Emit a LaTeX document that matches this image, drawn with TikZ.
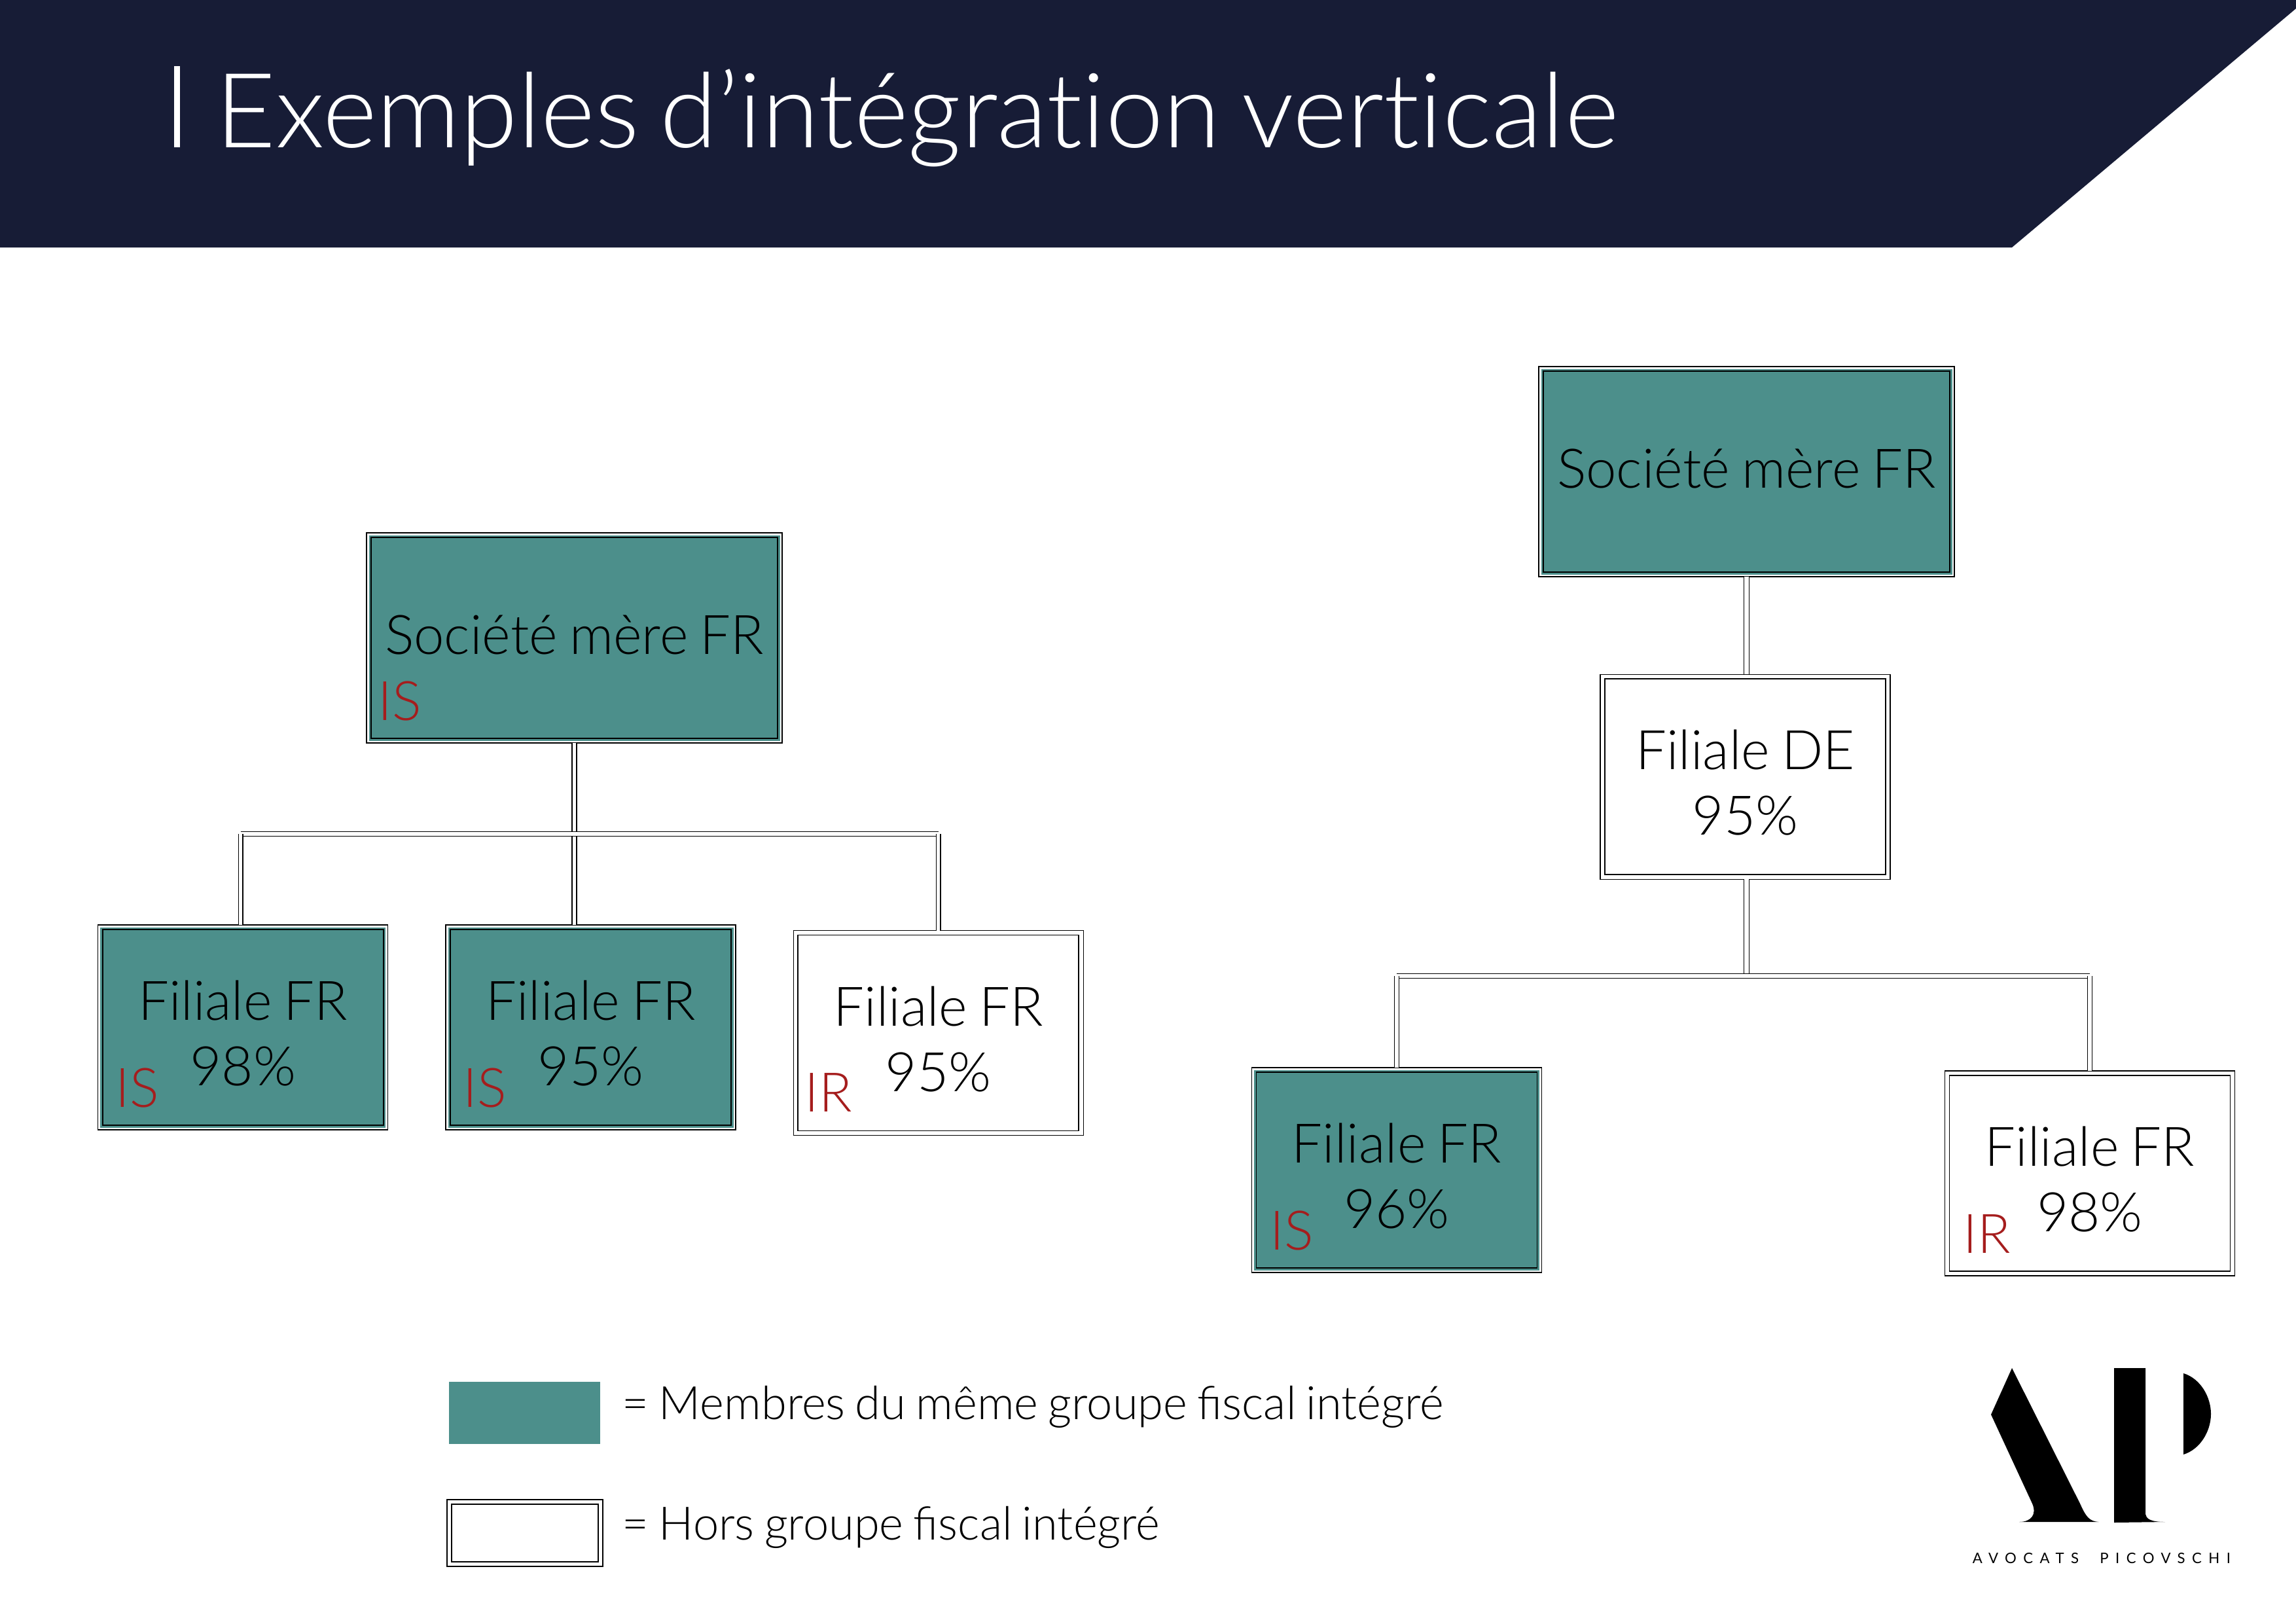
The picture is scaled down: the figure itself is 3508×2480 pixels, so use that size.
\documentclass[tikz,border=0pt]{standalone}
\usepackage{fontspec}
\setmainfont[WordSpace=0.8]{Lato Light}
\newfontfamily\titlefont[WordSpace=0.75, Ligatures=NoCommon]{Lato Light}
\newfontfamily\logofont[LetterSpace=47, WordSpace=2]{Lato}
\usepackage{tikz}
\usetikzlibrary{calc}

\definecolor{bandnavy}{HTML}{171C36}
\definecolor{boxteal}{HTML}{4C8F8B}
\definecolor{taxred}{HTML}{A51D1D}

\newcommand{\topstrut}{\rule{0pt}{19pt}}

\tikzset{
	box/.style={draw, line width=.3pt, inner sep=0pt, outer sep=0pt, align=center, font=\fontsize{20}{24}\selectfont},
	boxsize/.style 2 args={minimum width=#1*0.24pt, minimum height=#2*0.24pt},
	innerline/.style={draw, line width=.42pt},
	whitebox/.style={box, path picture={
		\draw [innerline] ([shift={(1.68pt,1.68pt)}]path picture bounding box.south west) rectangle ([shift={(-1.68pt,-1.68pt)}]path picture bounding box.north east);
	}},
	tealbox/.style={box, path picture={
		\fill [boxteal] ([shift={(.84pt,.84pt)}]path picture bounding box.south west) rectangle ([shift={(-.84pt,-.84pt)}]path picture bounding box.north east);
		\draw [innerline] ([shift={(1.68pt,1.68pt)}]path picture bounding box.south west) rectangle ([shift={(-1.68pt,-1.68pt)}]path picture bounding box.north east);
	}},
	mere/.style={boxsize={635}{321}, text height=14.5pt, text depth=2.7pt},
	filiale/.style={boxsize={443}{313}},
	link/.style={draw, line width=.36pt, double, double distance=#1},
	link/.default=1.25pt,
	taxlabel/.style={text=taxred, anchor=base west, inner sep=0pt, font=\fontsize{20}{24}\selectfont},
	legendtext/.style={anchor=base west, inner sep=0pt, font=\fontsize{16.9}{20}\selectfont},
}

\begin{document}
\begin{tikzpicture}[x=0.24pt, y=-0.24pt]
	%\draw [help lines, step=100, gray] (0,0) grid (3508, 2480);
	\useasboundingbox (0,0) rectangle (3508,2480);

	\fill [bandnavy] (0,0) -- (3508,0) -- (3508,13) -- (3074,378) -- (0,378) -- cycle;
	\fill [white] (266,101) rectangle (275,225);
	\node (T) [text=white, anchor=base west, inner sep=0pt, font=\titlefont\fontsize{38.1}{45}\selectfont] at (329,225) {Exemples d’intégration verticale};

	\node (M1) [tealbox, mere] at (877.5,974.5) {Société mère FR};
	\node (F1) [tealbox, filiale] at (371.3,1569.5) {\topstrut Filiale FR\\98\%};
	\node (F2) [tealbox, filiale] at (902.5,1569.5) {\topstrut Filiale FR\\95\%};
	\node (F3) [whitebox, filiale] at (1433.7,1578) {\topstrut Filiale FR\\95\%};

	\node (I0) [taxlabel] at (577,1100) {IS};
	\node (I1) [taxlabel] at (176,1691) {IS};
	\node (I2) [taxlabel] at (707,1691) {IS};
	\node (I3) [taxlabel] at (1229,1698) {IR};

	\coordinate (B1L) at (367.6,1274);
	\coordinate (B1R) at (1433.7,1274);
	\draw [link] (M1.south) -- (M1.south |- F2.north);
	\draw [link=1.4pt] (B1L) -- (B1R);
	\draw [link] (B1L) -- (B1L |- F1.north);
	\draw [link] (B1R) -- (F3.north);

	\node (M2) [tealbox, mere] at (2668.5,720.5) {Société mère FR};
	\node (D1) [whitebox, filiale] at (2666.5,1186.7) {\topstrut Filiale DE\\95\%};
	\node (F4) [tealbox, filiale] at (2134,1787.5) {\topstrut Filiale FR\\96\%};
	\node (F5) [whitebox, filiale] at (3193,1792.5) {\topstrut Filiale FR\\98\%};

	\node (I4) [taxlabel] at (1940,1909) {IS};
	\node (I5) [taxlabel] at (2999,1914) {IR};

	\coordinate (B2L) at (2134,1491);
	\coordinate (B2R) at (3193,1491);
	\draw [link=1.6pt] (M2.south) -- (M2.south |- D1.north);
	\draw [link=1.6pt] (M2.south |- D1.south) -- (M2.south |- B2L);
	\draw [link=1.4pt] (B2L) -- (B2R);
	\draw [link] (B2L) -- (F4.north);
	\draw [link] (B2R) -- (F5.north);

	\node (L1) [fill=boxteal, inner sep=0pt, boxsize={231}{95}] at (801.7,2158.5) {};
	\node (L2) [whitebox, boxsize={238}{102}] at (802,2342) {};
	\node (L1T) [legendtext] at (950,2168) {= Membres du même groupe fiscal intégré};
	\node (L2T) [legendtext] at (950,2352) {= Hors groupe fiscal intégré};

	\fill (3074,2090) -- (3042,2161) -- (3105,2297) .. controls (3112,2313) and (3104,2325) .. (3085,2325) -- (3206.5,2325) .. controls (3192,2324) and (3187,2317) .. (3178,2297) -- cycle;
	\fill (3230,2090) -- (3278,2090) -- (3278,2313) .. controls (3279,2320) and (3285,2325) .. (3308,2325) -- (3230,2326) -- cycle;
	\fill (3336,2098) .. controls (3362,2106) and (3378,2134) .. (3378,2160) .. controls (3378,2186) and (3362,2214) .. (3336,2222) -- cycle;
	\node (AP) [anchor=base west, inner sep=0pt, font=\logofont\fontsize{5.33}{6}\selectfont] at (3013,2388) {AVOCATS PICOVSCHI};
\end{tikzpicture}
\end{document}
